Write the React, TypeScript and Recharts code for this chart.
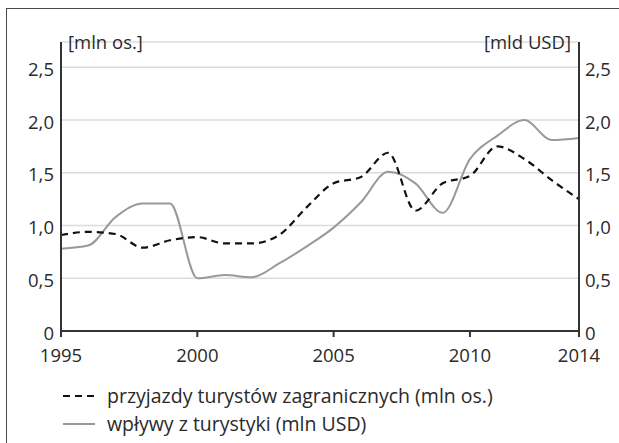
import React from "react";
import { LineChart, Line, XAxis, YAxis, CartesianGrid } from "recharts";

const years = [1995, 1996, 1997, 1998, 1999, 2000, 2001, 2002, 2003, 2004, 2005, 2006, 2007, 2008, 2009, 2010, 2011, 2012, 2013, 2014];
const arrivals = [0.91, 0.94, 0.92, 0.79, 0.86, 0.89, 0.83, 0.83, 0.91, 1.17, 1.40, 1.46, 1.69, 1.14, 1.40, 1.47, 1.75, 1.63, 1.43, 1.25];
const revenue = [0.78, 0.81, 1.08, 1.21, 1.21, 0.50, 0.53, 0.51, 0.64, 0.80, 0.98, 1.22, 1.51, 1.40, 1.12, 1.63, 1.85, 2.0, 1.81, 1.83];
const xTicks = [1995, 2000, 2005, 2010, 2014];
const yTicks = [0, 0.5, 1, 1.5, 2, 2.5];
const leftUnit = "[mln os.]";
const rightUnit = "[mld USD]";
const legendArrivals = "przyjazdy turystów zagranicznych (mln os.)";
const legendRevenue = "wpływy z turystyki (mln USD)";

const data = years.map((y, i) => ({ year: y, arrivals: arrivals[i], revenue: revenue[i] }));

const FONT = "'Open Sans', sans-serif";
const fmt = (v: number) => (v === 0 ? "0" : v.toFixed(1).replace(".", ","));
const tickStyle = { fontSize: 18.5, fill: "#2a2a2a", fontFamily: FONT };
const yTickStyle = { ...tickStyle, dy: 2 };

export default function App() {
  return (
    <div style={{ position: "absolute", left: 0, top: 0, width: 619, height: 443, overflow: "hidden", background: "#fff", fontFamily: FONT }}>
      <div style={{ position: "absolute", left: 6, top: 8, width: 700, height: 600, border: "1.5px solid #4a4a4a", boxSizing: "border-box" }} />
      <div style={{ position: "absolute", left: 0, top: 0 }}>
        <LineChart width={619} height={443} data={data} margin={{ top: 42, right: 0, bottom: 0, left: 0 }}>
          <CartesianGrid vertical={false} stroke="#dcdcdc" strokeWidth={1.5} yAxisId="left" />
          <XAxis
            dataKey="year"
            type="number"
            domain={[1995, 2014]}
            ticks={xTicks}
            height={112}
            tickSize={6}
            tickMargin={12}
            stroke="#333"
            strokeWidth={2}
            tick={tickStyle}
            interval={0}
          />
          <YAxis
            yAxisId="left"
            domain={[0, 2.74]}
            ticks={yTicks}
            width={61}
            tickLine={false}
            tickSize={0}
            tickMargin={7}
            stroke="#333"
            strokeWidth={2}
            tick={yTickStyle}
            tickFormatter={fmt}
            allowDataOverflow
          />
          <YAxis
            yAxisId="right"
            orientation="right"
            domain={[0, 2.74]}
            ticks={yTicks}
            width={40}
            tickLine={false}
            tickSize={0}
            tickMargin={6}
            stroke="#333"
            strokeWidth={2}
            tick={yTickStyle}
            tickFormatter={fmt}
            allowDataOverflow
          />
          <Line yAxisId="left" type="monotone" dataKey="revenue" stroke="#999" strokeWidth={2} dot={false} isAnimationActive={false} />
          <Line yAxisId="left" type="monotone" dataKey="arrivals" stroke="#111" strokeWidth={2.2} strokeDasharray="7 5" dot={false} isAnimationActive={false} />
        </LineChart>
      </div>
      <div style={{ position: "absolute", left: 68, top: 29, fontSize: 18.5, lineHeight: "26px", color: "#2a2a2a" }}>{leftUnit}</div>
      <div style={{ position: "absolute", right: 619 - 571, top: 29, fontSize: 18.5, lineHeight: "26px", color: "#2a2a2a" }}>{rightUnit}</div>
      <div style={{ position: "absolute", left: 63, top: 382, fontSize: 19.5, color: "#2a2a2a", lineHeight: "28px" }}>
        <div style={{ display: "flex", alignItems: "center" }}>
          <svg width={32} height={6} style={{ marginRight: 12 }}>
            <line x1={0} y1={3} x2={32} y2={3} stroke="#111" strokeWidth={2.2} strokeDasharray="7 5" />
          </svg>
          <span>{legendArrivals}</span>
        </div>
        <div style={{ display: "flex", alignItems: "center" }}>
          <svg width={32} height={6} style={{ marginRight: 12 }}>
            <line x1={0} y1={3} x2={32} y2={3} stroke="#999" strokeWidth={2} />
          </svg>
          <span>{legendRevenue}</span>
        </div>
      </div>
    </div>
  );
}
